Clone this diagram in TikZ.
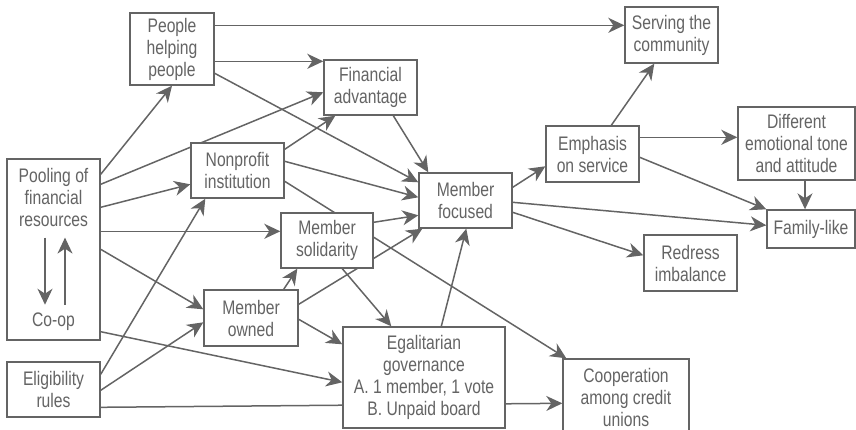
\documentclass[tikz,border=0pt]{standalone}
\usepackage{fontspec}
\setmainfont{Liberation Sans}[FakeStretch=0.8]
\usetikzlibrary{positioning,calc,arrows.meta,backgrounds}
\definecolor{linegray}{RGB}{100,100,100}
\definecolor{textgray}{RGB}{100,100,100}

\begin{document}
\begin{tikzpicture}[x=0.5pt,y=-0.5pt,
txt/.style={align=center,inner sep=0pt,text=textgray,font=\fontsize{9.8}{11}\selectfont},
box/.style={txt,draw=linegray,line width=0.7pt,fill=white,rectangle,minimum width=46.5pt,minimum height=27.5pt},
arr/.style={draw=linegray,line width=0.75pt,-{Stealth[length=8pt,width=7.5pt,inset=2.5pt]}}]
\useasboundingbox (0,0) rectangle (856,429);

\node (help) [box,minimum width=42pt,minimum height=36pt] at (172,49) {People\\helping\\people};
\node (fin) [box] at (370.5,87.5) {Financial\\advantage};
\node (nonp) [box] at (237.5,170.5) {Nonprofit\\institution};
\node (pool) [box,minimum height=90.5pt] at (53.5,249.5) {};
\node (pooltxt) [txt] at (53.5,197) {Pooling of\\financial\\resources};
\node (coop) [txt] at (53.5,322) {Co-op};
\node (elig) [box] at (53.5,389.5) {Eligibility\\rules};
\node (soli) [box,minimum width=46pt] at (327,240.5) {Member\\solidarity};
\node (owned) [box,minimum width=47pt,minimum height=28pt] at (251,318) {Member\\owned};
\node (egal) [box,minimum width=81pt,minimum height=50.5pt] at (424,377.5) {Egalitarian\\governance\\A. 1 member, 1 vote\\B. Unpaid board};
\node (cooperation) [box,minimum width=63pt,minimum height=38pt] at (626,397) {Cooperation\\among credit\\unions};
\node (focus) [box] at (465.5,200.5) {Member\\focused};
\node (emph) [box,minimum height=28pt] at (592.5,154) {Emphasis\\on service};
\node (serve) [box,minimum height=28pt] at (671.5,35) {Serving the\\community};
\node (diff) [box,minimum width=58.5pt,minimum height=36.5pt] at (796.5,143.5) {Different\\emotional tone\\and attitude};
\node (redress) [box,minimum height=28pt] at (690.5,263) {Redress\\imbalance};
\node (family) [box,minimum width=44pt,minimum height=19pt] at (811,229) {Family-like};

\draw[arr] ([xshift=-4.25pt,yshift=-5.5pt]pooltxt.south) -- ([xshift=-4.25pt,yshift=4pt]coop.north);
\draw[arr] ([xshift=5.75pt,yshift=4pt]coop.north) -- ([xshift=5.75pt,yshift=-5.5pt]pooltxt.south);

\begin{scope}[on background layer]
\draw[arr] ($(help.north east)+(0,13)$) -- ($(serve.north west)+(0,19)$);
\draw[arr] ($(help.north east)+(0,49)$) -- ($(fin.north west)+(0,2)$);
\draw[arr] ($(help.north east)+(0,61)$) -- ($(focus.north west)+(0,10)$);
\draw[arr] ($(pool.north east)+(0,16)$) -- (help.south);
\draw[arr] ($(pool.north east)+(0,26)$) -- ($(fin.north west)+(0,33)$);
\draw[arr] ($(pool.north east)+(0,49)$) -- ($(nonp.north west)+(0,42)$);
\draw[arr] ($(pool.north east)+(0,73)$) -- ($(soli.north west)+(0,19)$);
\draw[arr] ($(pool.north east)+(0,91)$) -- ($(owned.north west)+(0,20)$);
\draw[arr] ($(pool.south east)+(0,-9)$) -- ($(egal.north west)+(0,56)$);
\draw[arr] ($(elig.north east)+(0,13)$) -- ($(nonp.south west)+(15,0)$);
\draw[arr] ($(elig.north east)+(0,29)$) -- ($(owned.north west)+(0,33)$);
\draw[arr] ($(elig.north east)+(0,46)$) -- ($(cooperation.north west)+(0,45)$);
\draw[arr] ($(nonp.north east)+(0,7)$) -- ($(fin.south west)+(12,0)$);
\draw[arr] ($(nonp.north east)+(0,19)$) -- ($(focus.north west)+(0,25)$);
\draw[arr] ($(nonp.north east)+(0,39)$) -- ($(cooperation.north west)+(4,0)$);
\draw[arr] ($(fin.south west)+(70,0)$) -- ($(focus.north west)+(10,0)$);
\draw[arr] ($(soli.north east)+(0,10)$) -- ($(focus.north west)+(0,43)$);
\draw[arr] ($(owned.north east)+(0,15)$) -- ($(focus.south west)+(4,0)$);
\draw[arr] ($(owned.north east)+(-15,0)$) -- ($(soli.south west)+(17,0)$);
\draw[arr] ($(owned.north east)+(0,30)$) -- ($(egal.north west)+(0,18)$);
\draw[arr] ($(soli.south west)+(62,0)$) -- ($(egal.north west)+(49,0)$);
\draw[arr] ($(egal.north west)+(99,0)$) -- ($(focus.south west)+(48,0)$);
\draw[arr] ($(focus.north east)+(0,15)$) -- ($(emph.north west)+(0,41)$);
\draw[arr] ($(focus.north east)+(0,30)$) -- ($(family.north west)+(0,16)$);
\draw[arr] ($(focus.north east)+(0,40)$) -- ($(redress.north west)+(0,21)$);
\draw[arr] ($(emph.north west)+(66,0)$) -- ($(serve.south west)+(30,0)$);
\draw[arr] ($(emph.north east)+(0,12)$) -- ($(diff.north west)+(0,31)$);
\draw[arr] ($(emph.north east)+(0,32)$) -- (family.north west);
\draw[arr] ($(diff.south)+(8.5,0)$) -- ($(family.north)+(-6,0)$);
\end{scope}
\end{tikzpicture}
\end{document}
